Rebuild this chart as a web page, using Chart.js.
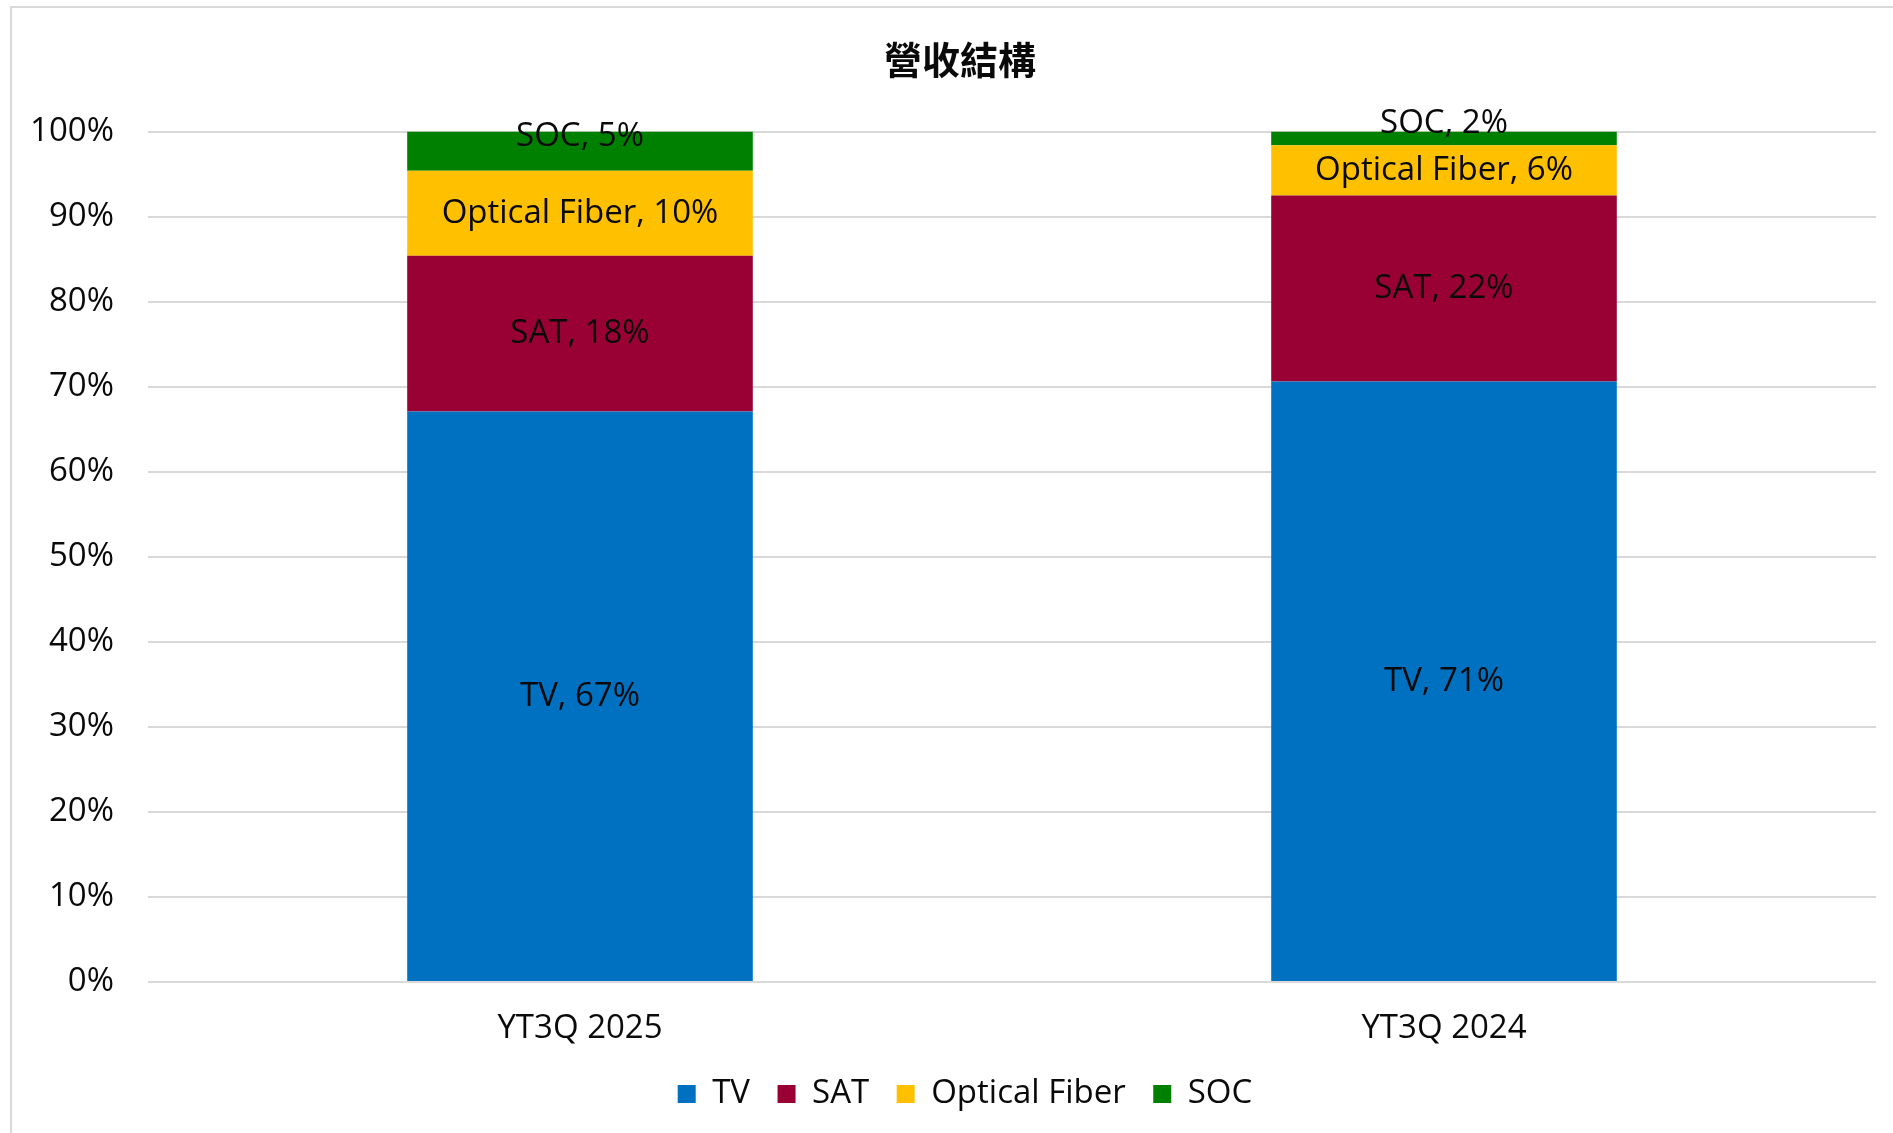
<!DOCTYPE html>
<html>
<head>
<meta charset="utf-8">
<script src="https://cdn.jsdelivr.net/npm/chart.js@4.4.1/dist/chart.umd.min.js"></script>
<style>
  html, body { margin: 0; padding: 0; background: #fff; }
  canvas { display: block; }
</style>
</head>
<body>
<canvas id="mixChart" width="1893" height="1133"></canvas>
<script>
// data (percent of revenue)
const categories = ['YT3Q 2025', 'YT3Q 2024'];
const seriesNames = ['TV', 'SAT', 'Optical Fiber', 'SOC'];
const tvShare = [67.1, 70.6];
const satShare = [18.3, 21.9];
const fiberShare = [10.0, 5.9];
const socShare = [4.6, 1.6];
const yTicks = [0, 10, 20, 30, 40, 50, 60, 70, 80, 90, 100];

const colors = ['#0070C0', '#990033', '#FFC000', '#008000'];
const latinFont = '"Open Sans", "Noto Sans CJK TC", sans-serif';
const ink = '#0a0a0a';

// white page + the light chart-area frame (left/top edge only are visible)
const frame = {
  id: 'frame',
  beforeDraw(chart) {
    const c = chart.ctx;
    c.save();
    c.fillStyle = '#fff';
    c.fillRect(0, 0, chart.width, chart.height);
    c.strokeStyle = '#d9d9d9';
    c.lineWidth = 2;
    c.strokeRect(11, 7, chart.width + 20, chart.height + 20);
    c.restore();
  }
};

// title & legend are centred on the whole frame in the original, not on the canvas minus the right gap
const centerShift = {
  id: 'centerShift',
  afterLayout(chart) {
    chart.titleBlock.left += 44;
    chart.legend.left += 54;
  }
};

// "Name, NN%" labels in the middle of each segment
const segLabels = {
  id: 'segLabels',
  afterDatasetsDraw(chart) {
    const c = chart.ctx;
    c.save();
    c.font = '33px ' + latinFont;
    c.fillStyle = ink;
    c.textAlign = 'center';
    c.textBaseline = 'middle';
    chart.data.datasets.forEach((ds, i) => {
      const meta = chart.getDatasetMeta(i);
      meta.data.forEach((bar, j) => {
        const p = bar.getProps(['x', 'y', 'base'], true);
        const mid = (p.y + p.base) / 2 + (ds.labelShift || 0);
        c.fillText(ds.label + ', ' + Math.round(ds.data[j]) + '%', p.x, mid);
      });
    });
    c.restore();
  }
};

const shares = [tvShare, satShare, fiberShare, socShare];
const datasets = seriesNames.map((name, i) => ({
  label: name,
  data: shares[i],
  backgroundColor: colors[i],
  borderWidth: 0,
  barPercentage: 0.4,
  categoryPercentage: 1.0,
  labelShift: name === 'SOC' ? -15 : 0
}));

new Chart(document.getElementById('mixChart'), {
  type: 'bar',
  data: { labels: categories, datasets: datasets },
  plugins: [frame, centerShift, segLabels],
  options: {
    responsive: false,
    animation: false,
    layout: { padding: { left: 0, right: 17, top: 0, bottom: 12.5 } },
    plugins: {
      title: {
        display: true,
        text: '營收結構',
        color: ink,
        font: { family: '"Noto Sans CJK TC", sans-serif', size: 38, weight: 'bold' },
        padding: { top: 37, bottom: 49 }
      },
      legend: {
        position: 'bottom',
        labels: {
          color: ink,
          font: { family: latinFont, size: 33 },
          boxWidth: 18,
          boxHeight: 18,
          padding: 27.5
        }
      },
      tooltip: { enabled: false }
    },
    scales: {
      x: {
        stacked: true,
        afterFit: (axis) => { axis.height = 68; },
        grid: { display: false, drawTicks: false },
        border: { display: false },
        ticks: { color: ink, font: { family: latinFont, size: 33 }, padding: 27 }
      },
      y: {
        stacked: true,
        min: 0,
        max: 100,
        afterBuildTicks: (axis) => { axis.ticks = yTicks.map(v => ({ value: v })); },
        afterFit: (axis) => { axis.width = 148; },
        grid: { color: '#d9d9d9', lineWidth: 2, drawTicks: false },
        border: { display: false },
        ticks: {
          color: ink,
          font: { family: latinFont, size: 33 },
          padding: 34,
          callback: (v) => v + '%'
        }
      }
    }
  }
});
</script>
</body>
</html>
